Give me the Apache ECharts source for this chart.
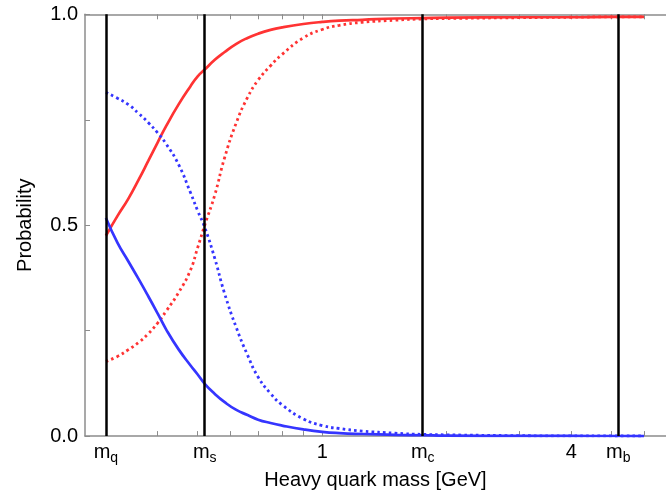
<!DOCTYPE html>
<html>
<head>
<meta charset="utf-8">
<script src="https://cdn.jsdelivr.net/npm/echarts@6/dist/echarts.min.js"></script>
<style>
html,body{margin:0;padding:0;background:#fff;}
#chart{width:666px;height:495px;}
</style>
</head>
<body>
<div id="chart"></div>
<script>
// Heavy quark mass [GeV] sample points (log axis)
const masses = [0.30,0.32,0.34,0.36,0.38,0.40,0.42,0.45,0.48,0.50,0.52,0.55,0.58,0.62,0.66,0.70,0.75,0.80,0.90,1.0,1.1,1.25,1.5,1.75,2.0,3.0,4.0,5.0,6.0];
const redSolid = [0.475,0.522,0.563,0.608,0.653,0.696,0.736,0.787,0.829,0.853,0.869,0.892,0.910,0.930,0.944,0.954,0.963,0.969,0.977,0.982,0.985,0.987,0.990,0.991,0.992,0.993,0.993,0.994,0.994];
const blueSolid = [0.517,0.458,0.414,0.372,0.331,0.291,0.252,0.205,0.168,0.146,0.124,0.100,0.081,0.062,0.050,0.039,0.031,0.025,0.016,0.010,0.007,0.005,0.003,0.002,0.001,0.0005,0.0003,0.0002,0.0001];
const redDotted = [0.177,0.189,0.205,0.222,0.243,0.268,0.297,0.341,0.393,0.447,0.500,0.572,0.658,0.743,0.803,0.844,0.878,0.905,0.944,0.964,0.974,0.981,0.986,0.989,0.990,0.992,0.993,0.994,0.994];
const blueDotted = [0.815,0.801,0.786,0.765,0.743,0.719,0.692,0.643,0.578,0.534,0.495,0.421,0.340,0.257,0.192,0.140,0.101,0.074,0.041,0.025,0.018,0.012,0.007,0.004,0.003,0.001,0.0005,0.0003,0.0002];

// Special mass markers (vertical lines) and x tick labels
const markerMasses = [0.30, 0.52, 1.75, 5.2];
const xLabelValues = [0.30, 0.52, 1, 1.75, 4, 5.2];
const xLabelTexts = ['{m|m}{s|q}', '{m|m}{s|s}', '{m|1}', '{m|m}{s|c}', '{m|4}', '{m|m}{s|b}'];
const xTickValues = [0.3,0.4,0.5,0.6,0.7,0.8,0.9,1,2,3,4,5,6];
const yTickLabels = {0:'0.0', 0.5:'0.5', 1:'1.0'};

const FONT = 'Liberation Sans, Arial, Helvetica, sans-serif';
const AXIS_COLOR = '#8c8c8c';
const RED = '#ff3333';
const BLUE = '#3535ff';

function pairs(ys){ return masses.map((m,i)=>[m, ys[i]]); }

function xLabelFmt(v){
  for (let i=0;i<xLabelValues.length;i++){
    if (Math.abs(v - xLabelValues[i]) < 1e-6 * Math.max(1,xLabelValues[i])) return xLabelTexts[i];
  }
  return '';
}

const chart = echarts.init(document.getElementById('chart'), null, {renderer:'canvas'});
const xBase = {
  type:'log', logBase:10, min:0.267, max:6.78,
  splitLine:{show:false}, minorTick:{show:false}, minorSplitLine:{show:false},
  axisLine:{show:true, lineStyle:{color:AXIS_COLOR, width:1.5}},
  axisTick:{show:true, inside:true, length:5, customValues:xTickValues, lineStyle:{color:AXIS_COLOR, width:1}}
};
const lineCommon = {type:'line', showSymbol:false, smooth:0.5, z:3};
chart.setOption({
  animation:false,
  grid:{left:85, right:0, top:14.3, bottom:54.3, containLabel:false},
  xAxis:[
    Object.assign({}, xBase, {
      position:'bottom',
      name:'Heavy quark mass [GeV]', nameLocation:'middle', nameGap:27,
      nameTextStyle:{fontSize:20, fontFamily:FONT, color:'#000'},
      axisLabel:{show:true, customValues:xLabelValues, margin:3, formatter:xLabelFmt,
        rich:{
          m:{fontSize:20, fontFamily:FONT, color:'#000', lineHeight:26},
          s:{fontSize:14, fontFamily:FONT, color:'#000', padding:[12,0,0,0]}
        }}
    }),
    Object.assign({}, xBase, {position:'top', axisLabel:{show:false}})
  ],
  yAxis:[{
    type:'value', min:0, max:1, interval:0.25, position:'left',
    name:'Probability', nameLocation:'middle', nameGap:50, nameRotate:90,
    nameTextStyle:{fontSize:20, fontFamily:FONT, color:'#000'},
    splitLine:{show:false},
    axisLine:{show:true, lineStyle:{color:AXIS_COLOR, width:1.5}},
    axisTick:{show:true, inside:true, length:5, lineStyle:{color:AXIS_COLOR, width:1}},
    axisLabel:{fontSize:20, fontFamily:FONT, color:'#000', margin:7,
      formatter:function(v){ const k = Math.round(v*100)/100; return yTickLabels[k] !== undefined ? yTickLabels[k] : ''; }}
  }],
  series:[
    {type:'line', name:'markers', data:[], z:1, silent:true,
     markLine:{silent:true, symbol:['none','none'], label:{show:false},
       lineStyle:{color:'#000', width:2.5, type:'solid'},
       emphasis:{disabled:true},
       data: markerMasses.map(m=>({xAxis:m}))}},
    Object.assign({}, lineCommon, {name:'redSolid', data:pairs(redSolid),
     lineStyle:{color:RED, width:2.7, type:'solid'}}),
    Object.assign({}, lineCommon, {name:'redDotted', data:pairs(redDotted),
     lineStyle:{color:RED, width:2.8, type:[2.6,3.2], cap:'butt'}}),
    Object.assign({}, lineCommon, {name:'blueSolid', data:pairs(blueSolid),
     lineStyle:{color:BLUE, width:2.7, type:'solid'}}),
    Object.assign({}, lineCommon, {name:'blueDotted', data:pairs(blueDotted),
     lineStyle:{color:BLUE, width:2.8, type:[2.6,3.2], cap:'butt'}})
  ]
});
</script>
</body>
</html>
